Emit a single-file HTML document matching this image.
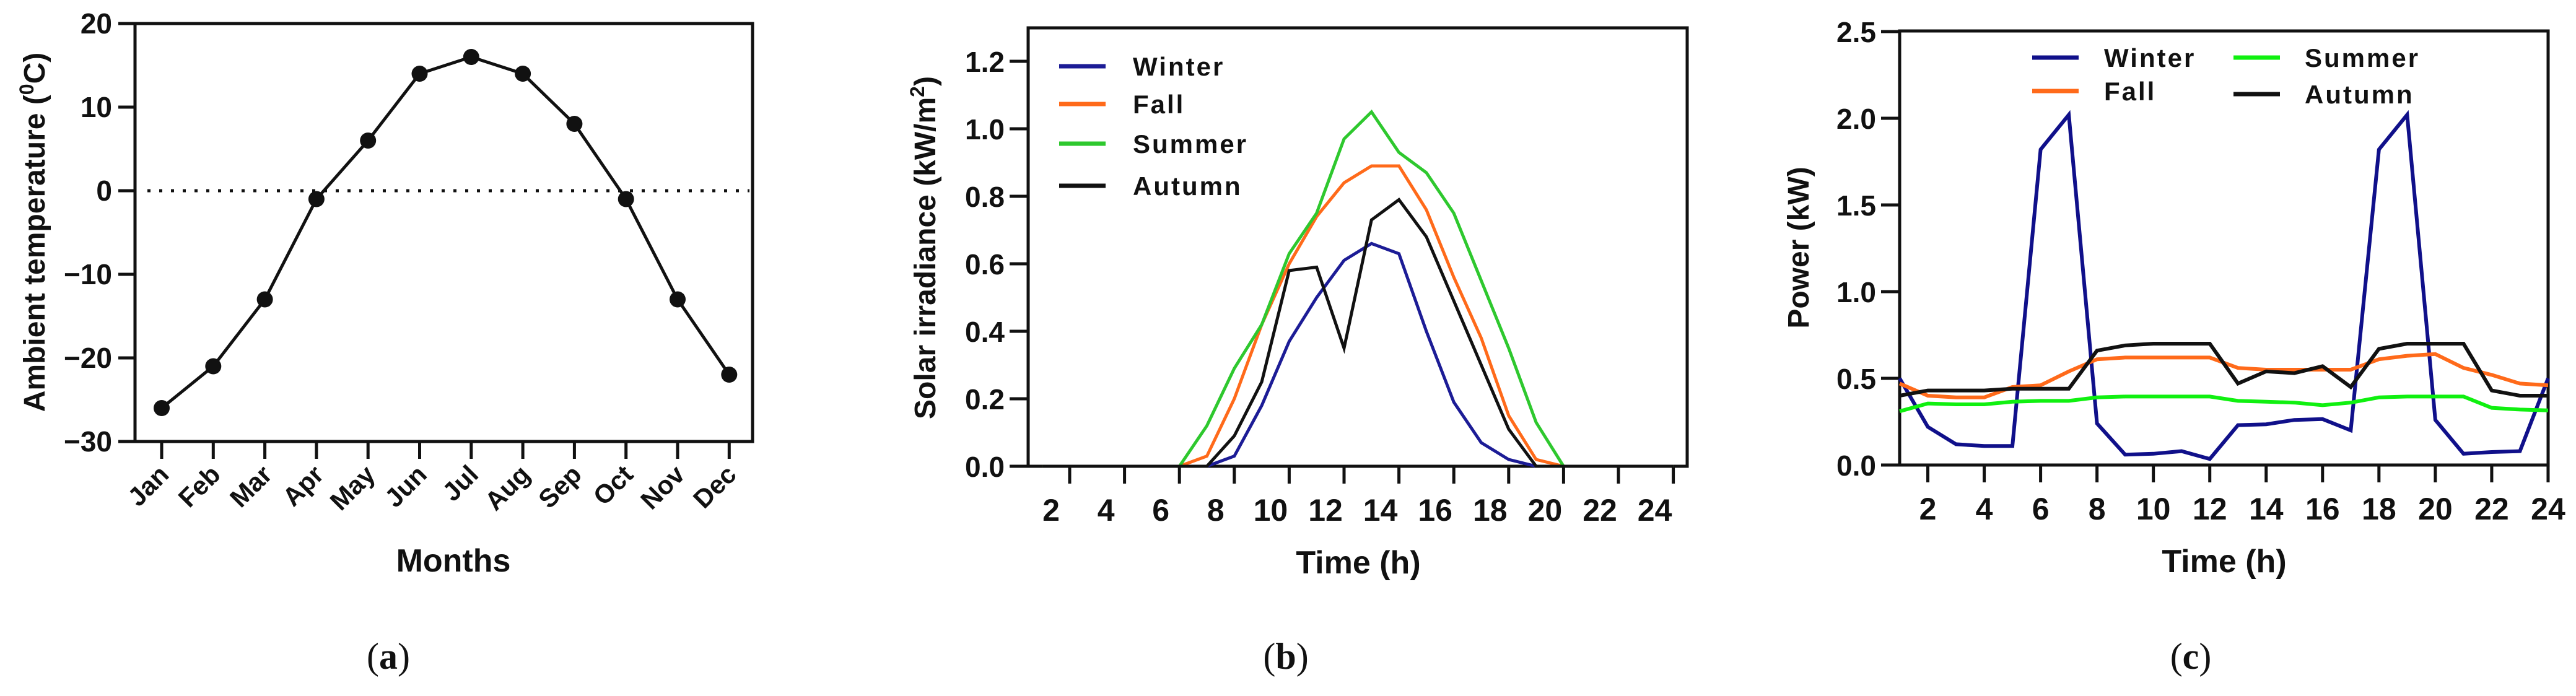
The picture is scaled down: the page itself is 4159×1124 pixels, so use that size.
<!DOCTYPE html>
<html><head><meta charset="utf-8"><style>
html,body{margin:0;padding:0;background:#fff}
svg{display:block}
text{font-family:"Liberation Sans",Arial,sans-serif;font-weight:bold;fill:#111}
.sub{font-family:"Liberation Serif",serif;font-weight:normal}
</style></head><body>
<svg id="fig" width="4159" height="1124" viewBox="0 0 4159 1124" xmlns="http://www.w3.org/2000/svg">
<g id="pa"></g>
<g id="pb"></g>
<g id="pc"></g>
</svg>
<script>
// Panel a data
const months = ["Jan","Feb","Mar","Apr","May","Jun","Jul","Aug","Sep","Oct","Nov","Dec"];
const tempValues = [-26,-21,-13,-1,6,14,16,14,8,-1,-13,-22];
const tempTicks = [-30,-20,-10,0,10,20];
// Panel b data
const hoursB = [1,2,3,4,5,6,7,8,9,10,11,12,13,14,15,16,17,18,19,20,21,22,23,24];
const irrWinter = [0,0,0,0,0,0,0,0.03,0.18,0.37,0.5,0.61,0.66,0.63,0.4,0.19,0.07,0.02,0,0,0,0,0,0];
const irrFall   = [0,0,0,0,0,0,0.03,0.2,0.42,0.6,0.74,0.84,0.89,0.89,0.76,0.56,0.38,0.15,0.02,0,0,0,0,0];
const irrSummer = [0,0,0,0,0,0,0.12,0.29,0.42,0.63,0.75,0.97,1.05,0.93,0.87,0.75,0.55,0.35,0.13,0,0,0,0,0];
const irrAutumn = [0,0,0,0,0,0,0,0.09,0.25,0.58,0.59,0.35,0.73,0.79,0.68,0.49,0.3,0.11,0,0,0,0,0,0];
const irrTicks = ["0.0","0.2","0.4","0.6","0.8","1.0","1.2"];
const hourTicks = [2,4,6,8,10,12,14,16,18,20,22,24];
// Panel c data
const hoursC = [1,2,3,4,5,6,7,8,9,10,11,12,13,14,15,16,17,18,19,20,21,22,23,24];
const pwWinter = [0.5,0.22,0.12,0.11,0.11,1.82,2.02,0.24,0.06,0.065,0.08,0.035,0.23,0.235,0.26,0.265,0.2,1.82,2.02,0.26,0.065,0.075,0.08,0.5];
const pwFall   = [0.47,0.4,0.39,0.39,0.45,0.46,0.54,0.61,0.62,0.62,0.62,0.62,0.56,0.55,0.55,0.55,0.55,0.61,0.63,0.64,0.56,0.52,0.47,0.46];
const pwSummer = [0.31,0.355,0.35,0.35,0.365,0.37,0.37,0.39,0.395,0.395,0.395,0.395,0.37,0.365,0.36,0.345,0.36,0.39,0.395,0.395,0.395,0.33,0.32,0.315];
const pwAutumn = [0.4,0.43,0.43,0.43,0.44,0.44,0.44,0.66,0.69,0.7,0.7,0.7,0.47,0.54,0.53,0.57,0.45,0.67,0.7,0.7,0.7,0.43,0.4,0.4];
const pwTicks = ["0.0","0.5","1.0","1.5","2.0","2.5"];

const NS="http://www.w3.org/2000/svg";
function mk(parent,tag,attrs,txt){const e=document.createElementNS(NS,tag);for(const k in attrs)e.setAttribute(k,attrs[k]);if(txt!==undefined)e.textContent=txt;parent.appendChild(e);return e;}

// ---------- Panel A ----------
(function(){
const g=document.getElementById('pa');
const L=218,R=1215,T=38,B=713;
const xA=i=>261+i*83.3;
const yA=v=>B-(v+30)*13.5;
let e=mk(g,'rect',{x:L,y:T,width:R-L,height:B-T,fill:'none',stroke:'#111','stroke-width':5});


e=mk(g,'line',{x1:191,y1:B,x2:L,y2:B,stroke:'#111','stroke-width':5});


tempTicks.forEach(v=>{
  const t=mk(g,'line',{x1:191,y1:yA(v),x2:L,y2:yA(v),stroke:'#111','stroke-width':5});
  
  
  const lb=mk(g,'text',{x:181,y:yA(v)+16,'text-anchor':'end','font-size':46},v<0?'\u2212'+(-v):String(v));
  
  
});
e=mk(g,'line',{x1:L+20,y1:yA(0),x2:R-5,y2:yA(0),stroke:'#111','stroke-width':5,'stroke-dasharray':'5 14'});


months.forEach((m,i)=>{
  const t=mk(g,'line',{x1:xA(i),y1:B,x2:xA(i),y2:B+28,stroke:'#111','stroke-width':5});
  
  
  const lb=mk(g,'text',{transform:`translate(${xA(i)+14},${B+56}) rotate(-45)`,'text-anchor':'end','font-size':42},m);
  
  
});
e=mk(g,'polyline',{points:tempValues.map((v,i)=>xA(i)+','+yA(v)).join(' '),fill:'none',stroke:'#111','stroke-width':5});


tempValues.forEach((v,i)=>{
  const c=mk(g,'circle',{cx:xA(i),cy:yA(v),r:13,fill:'#111'});
  
  
});
e=mk(g,'text',{x:732,y:923,'text-anchor':'middle','font-size':52},'Months');


e=mk(g,'text',{transform:'translate(72,375) rotate(-90)','text-anchor':'middle','font-size':48},'');


e.innerHTML='Ambient temperature (<tspan dy="-18" font-size="32">0</tspan><tspan dy="18">C)</tspan>';
e=mk(g,'text',{x:627,y:1080,'text-anchor':'middle','font-size':60,'class':'sub'},'');


e.innerHTML='(<tspan font-weight="bold">a</tspan>)';
})();

// ---------- generic line panel ----------
function linePanel(g,cfg){
  const {L,R,T,B,xf,yf,yTicksLab,yTickVals,series,xTitle,yTitle,sub,subX,titleX,titleY,ytX,sw,labDx}=cfg;
  let e=mk(g,'rect',{x:L,y:T,width:R-L,height:B-T,fill:'none',stroke:'#111','stroke-width':5});
  
  
  e=mk(g,'line',{x1:L-30,y1:B,x2:R,y2:B,stroke:'#111','stroke-width':5});
  
  
  yTickVals.forEach((v,i)=>{
    const t=mk(g,'line',{x1:L-30,y1:yf(v),x2:L,y2:yf(v),stroke:'#111','stroke-width':5});
    
    
    const lb=mk(g,'text',{x:L-38,y:yf(v)+17,'text-anchor':'end','font-size':46},yTicksLab[i]);
    
    
  });
  hourTicks.forEach(h=>{
    const t=mk(g,'line',{x1:xf(h),y1:B,x2:xf(h),y2:B+28,stroke:'#111','stroke-width':5});
    
    
    const lb=mk(g,'text',{x:xf(h)+labDx,y:B+88,'text-anchor':'middle','font-size':50},String(h));
    
    
  });
  series.forEach(s=>{
    const p=mk(g,'polyline',{points:s.vals.map((v,i)=>xf(s.hours[i])+','+yf(v)).join(' '),fill:'none',stroke:s.color,'stroke-width':sw,'stroke-linejoin':'miter'});
    
    
    const ll=mk(g,'line',{x1:s.lx,y1:s.ly,x2:s.lx+75,y2:s.ly,stroke:s.color,'stroke-width':7});
    
    
    const lt=mk(g,'text',{x:s.tx,y:s.ly+15,'font-size':42,'letter-spacing':3},s.label);
    
    
  });
  e=mk(g,'text',{x:titleX,y:titleY,'text-anchor':'middle','font-size':52},xTitle);
  
  
  e=mk(g,'text',{transform:`translate(${ytX},400) rotate(-90)`,'text-anchor':'middle','font-size':48},'');
  
  
  e.innerHTML=yTitle;
  e=mk(g,'text',{x:subX,y:1080,'text-anchor':'middle','font-size':60,'class':'sub'},'');
  
  
  e.innerHTML='(<tspan font-weight="bold">'+sub+'</tspan>)';
}

linePanel(document.getElementById('pb'),{
  L:1660,R:2724,T:45,B:753,sw:5,labDx:-30,
  xf:h=>1727+(h-2)*44.3, yf:v=>753-v*545,
  yTicksLab:irrTicks, yTickVals:irrTicks.map(Number),
  series:[
    {name:'winter',label:'Winter',hours:hoursB,vals:irrWinter,color:'#1c1c96',lx:1710,ly:107,tx:1829},
    {name:'fall',label:'Fall',hours:hoursB,vals:irrFall,color:'#ff6a1a',lx:1710,ly:168,tx:1829},
    {name:'summer',label:'Summer',hours:hoursB,vals:irrSummer,color:'#2ec82e',lx:1710,ly:232,tx:1829},
    {name:'autumn',label:'Autumn',hours:hoursB,vals:irrAutumn,color:'#111',lx:1710,ly:300,tx:1829}],
  xTitle:'Time (h)',titleX:2193,titleY:926,ytX:1510,
  yTitle:'Solar irradiance (kW/m<tspan dy="-18" font-size="32">2</tspan><tspan dy="18">)</tspan>',
  sub:'b',subX:2076
});

linePanel(document.getElementById('pc'),{
  L:3067,R:4114,T:50,B:751,sw:6,labDx:0,
  xf:h=>3067+(h-1)*45.52, yf:v=>751-v*280,
  yTicksLab:pwTicks, yTickVals:pwTicks.map(Number),
  series:[
    {name:'winter',label:'Winter',hours:hoursC,vals:pwWinter,color:'#10108a',lx:3281,ly:93,tx:3397},
    {name:'fall',label:'Fall',hours:hoursC,vals:pwFall,color:'#ff6a1a',lx:3281,ly:147,tx:3397},
    {name:'summer',label:'Summer',hours:hoursC,vals:pwSummer,color:'#10f010',lx:3606,ly:93,tx:3721},
    {name:'autumn',label:'Autumn',hours:hoursC,vals:pwAutumn,color:'#111',lx:3606,ly:152,tx:3721}],
  xTitle:'Time (h)',titleX:3591,titleY:924,ytX:2920,
  yTitle:'Power (kW)',
  sub:'c',subX:3537
});
</script>
</body></html>
